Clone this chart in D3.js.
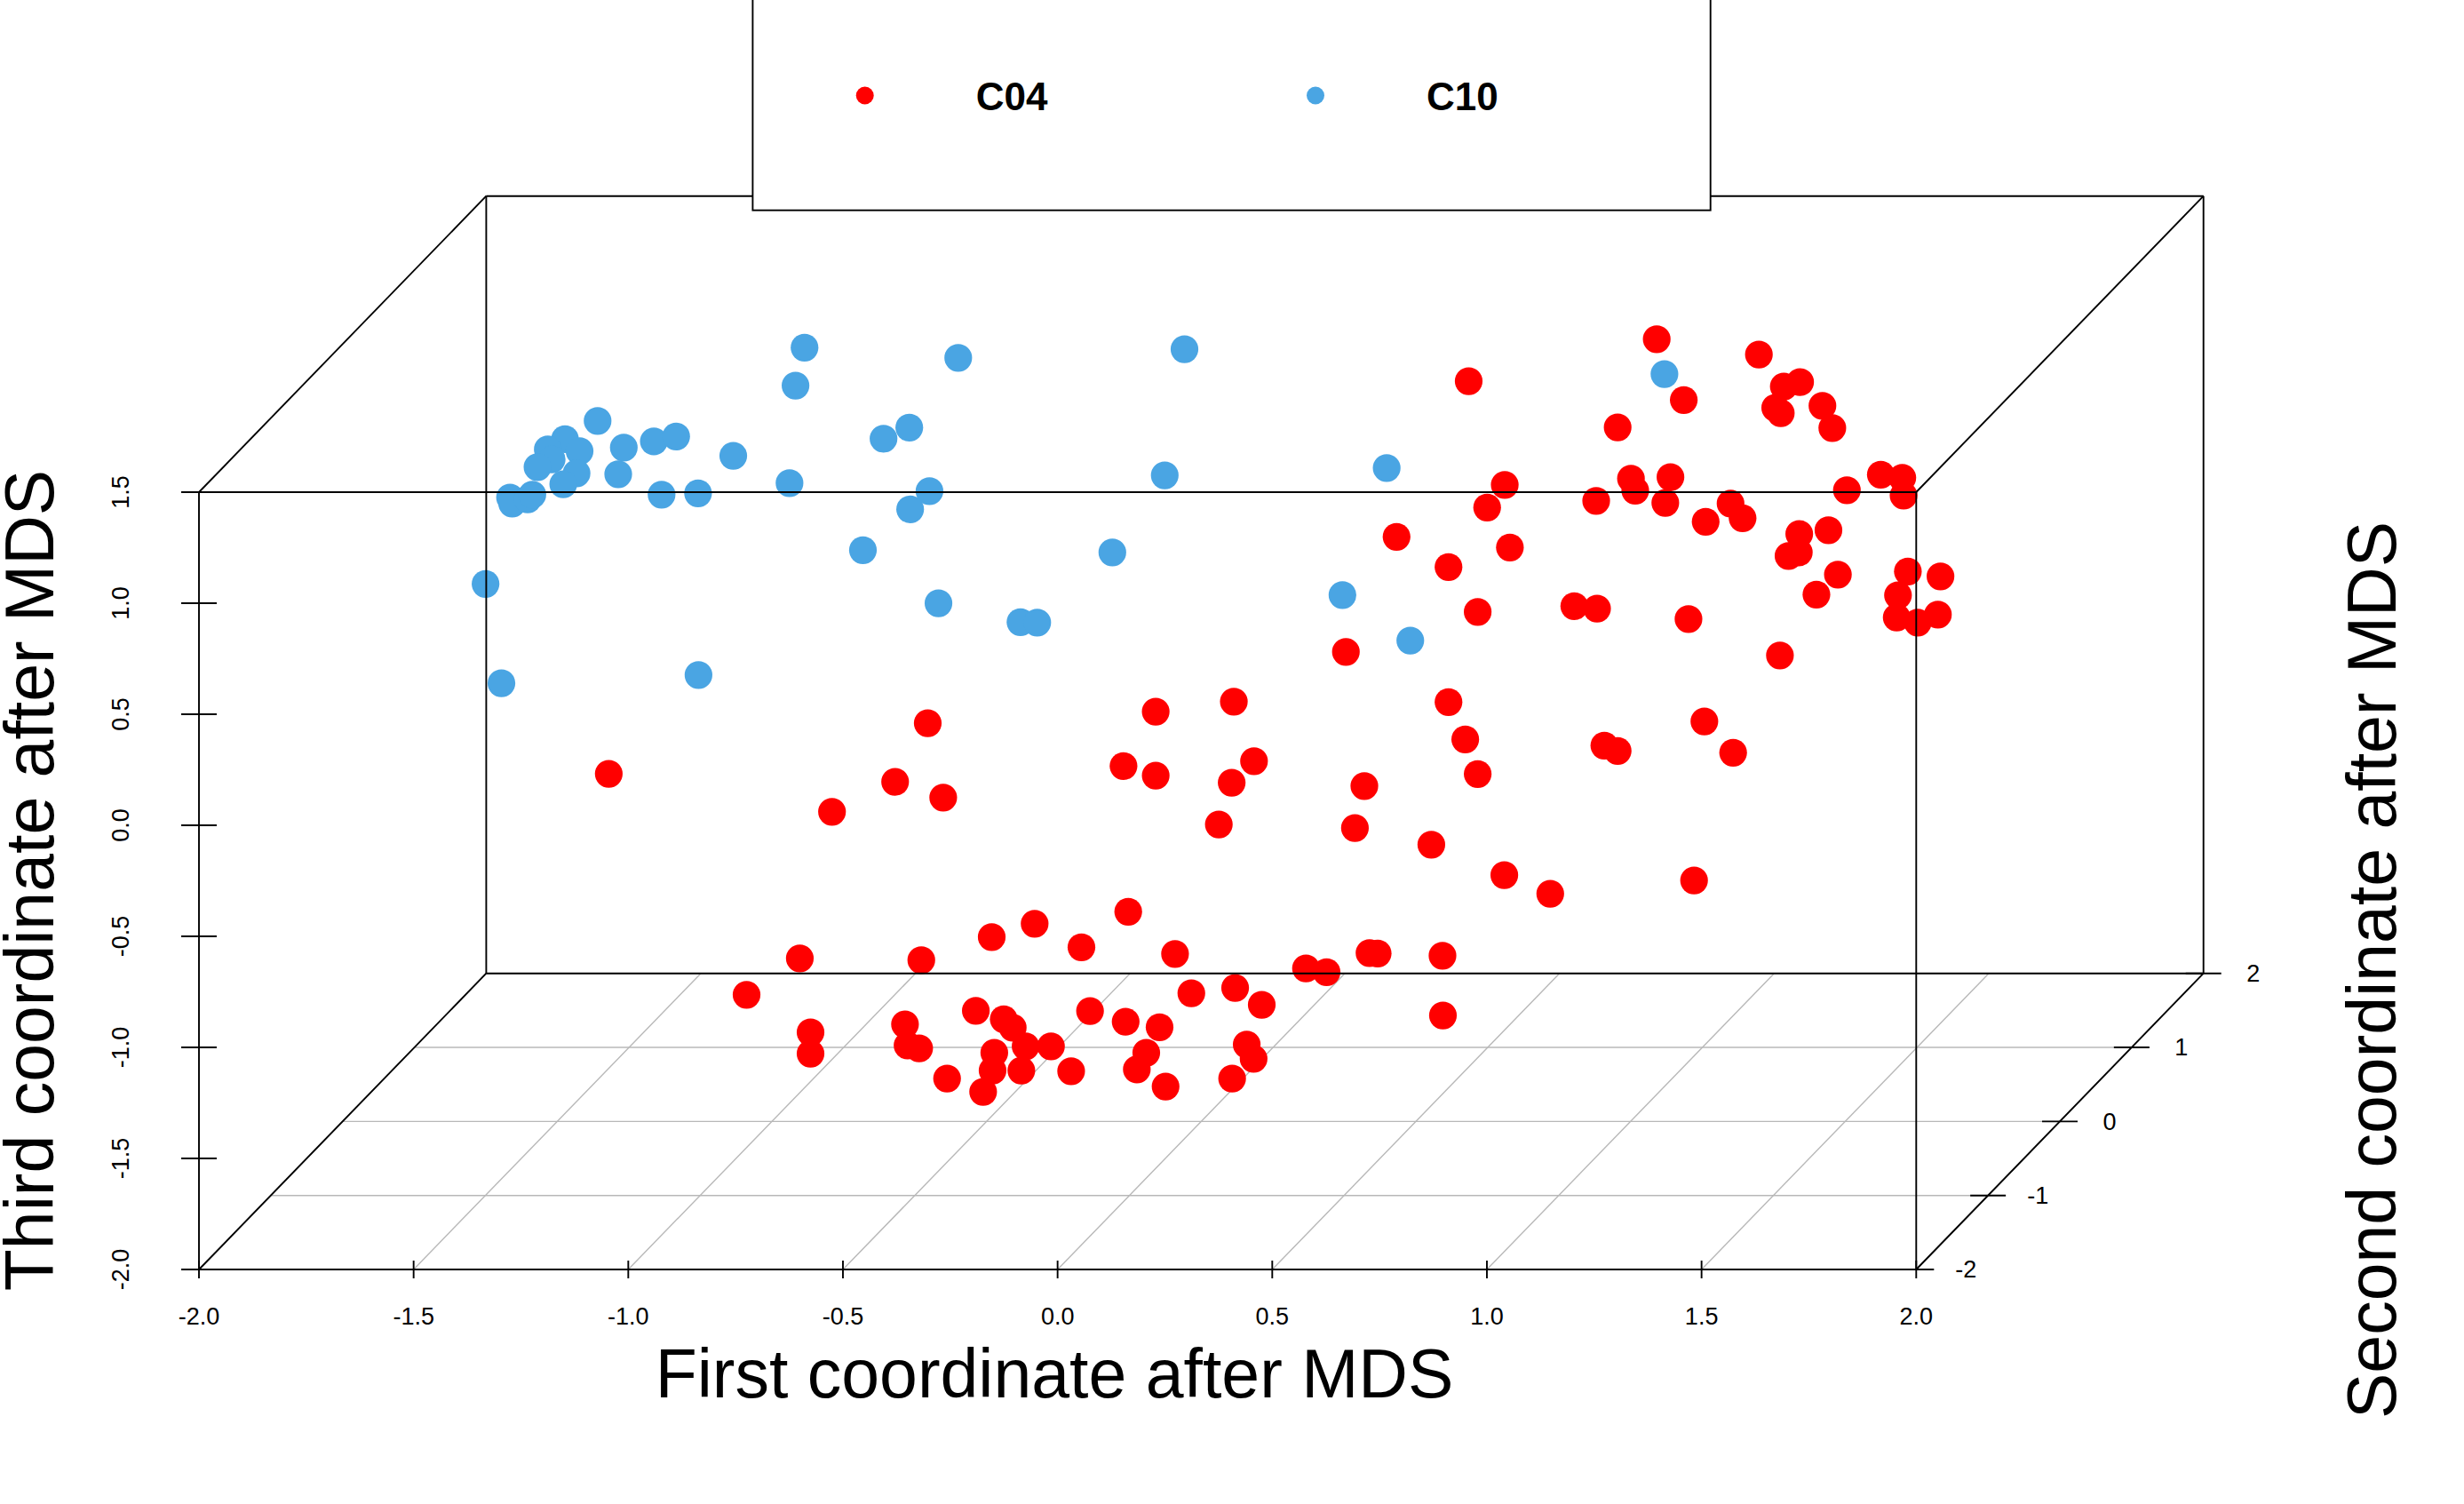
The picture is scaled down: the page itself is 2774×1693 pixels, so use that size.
<!DOCTYPE html>
<html><head><meta charset="utf-8">
<script src="https://cdn.jsdelivr.net/npm/d3@7"></script>
<style>html,body{margin:0;padding:0;background:#fff;} svg{display:block;}</style>
</head><body><svg id="chart" width="2774" height="1693"></svg>
<script>
// ---------- data ----------
const seriesNames = ["C04", "C10"];

const xTickValues = [-2.0, -1.5, -1.0, -0.5, 0.0, 0.5, 1.0, 1.5, 2.0];
const xTickLabels = ["-2.0", "-1.5", "-1.0", "-0.5", "0.0", "0.5", "1.0", "1.5", "2.0"];
const zTickValues = [-2.0, -1.5, -1.0, -0.5, 0.0, 0.5, 1.0, 1.5];
const zTickLabels = ["-2.0", "-1.5", "-1.0", "-0.5", "0.0", "0.5", "1.0", "1.5"];
const yTickValues = [-2, -1, 0, 1, 2];
const yTickLabels = ["-2", "-1", "0", "1", "2"];

// C04: first (x), second (y, depth) and third (z) coordinates after MDS
const c04X = [1.061,1.299,0.623,1.357,1.395,1.124,1.337,1.350,1.447,0.970,
  1.470,0.707,0.666,1.001,1.011,1.093,0.920,1.081,1.233,1.261,
  1.175,0.455,0.719,0.576,1.393,1.392,1.368,1.461,1.483,1.433,
  0.644,0.869,0.922,1.135,1.348,1.583,1.633,1.636,1.504,1.646,
  1.722,1.623,1.620,1.669,1.716,0.337,-1.380,-0.637,-0.713,-0.601,
  -0.860,-0.935,-0.652,-0.488,-0.388,-1.059,-0.910,-0.910,-0.690,-0.684,
  -0.657,-0.525,-0.460,-0.439,-0.409,-0.482,-0.486,-0.419,-0.592,-0.508,
  -0.350,-0.106,0.076,0.576,0.615,0.644,-0.181,-0.106,0.123,0.071,
  0.041,0.380,0.358,0.536,0.706,-0.170,-0.279,-0.061,0.244,0.292,
  0.392,0.411,0.562,0.563,-0.023,0.079,0.141,-0.259,-0.176,-0.097,
  -0.128,-0.150,-0.303,-0.083,0.106,0.122,0.072,0.939,0.970,1.172,
  1.239,0.813,1.148];
const c04Y = [0,0,0,0,0,0,0,0,0,0,
  0,0,0,0,0,0,0,0,0,0,
  0,0,0,0,0,0,0,0,0,0,
  0,0,0,0,0,0,0,0,0,0,
  0,0,0,0,0,0,0,0,0,0,
  0,0,0,0,0,0,0,0,0,0,
  0,0,0,0,0,0,0,0,0,0,
  0,0,0,0,0,0,0,0,0,0,
  0,0,0,0,0,0,0,0,0,0,
  0,0,0,0,0,0,0,0,0,0,
  0,0,0,0,0,0,0,0,0,0,
  0,0,0];
const c04Z = [1.522,1.453,1.333,1.309,1.329,1.248,1.213,1.189,1.222,1.125,
  1.122,0.866,0.764,0.894,0.840,0.901,0.794,0.785,0.782,0.716,
  0.700,0.632,0.584,0.496,0.645,0.562,0.546,0.662,0.462,0.372,
  0.294,0.320,0.309,0.262,0.098,0.912,0.898,0.818,0.842,0.476,
  0.454,0.369,0.269,0.246,0.282,0.114,-0.435,-0.207,-0.471,-0.542,
  -0.606,-1.266,-1.274,-1.170,-1.110,-1.430,-1.599,-1.695,-1.563,-1.658,
  -1.671,-1.502,-1.540,-1.578,-1.662,-1.691,-1.771,-1.771,-1.807,-1.867,
  -1.662,-0.155,-0.110,-0.112,-0.280,-0.436,-0.400,-0.443,-0.378,-0.475,
  -0.663,-0.490,-0.679,-0.754,-0.891,-1.056,-1.216,-1.246,-1.311,-1.328,
  -1.242,-1.244,-1.254,-1.523,-1.423,-1.399,-1.475,-1.503,-1.551,-1.576,
  -1.691,-1.766,-1.774,-1.843,-1.654,-1.718,-1.807,-0.308,-0.332,-0.199,
  -0.340,-0.975,-0.915];

// C10
const c10X = [-0.924,-0.945,-1.406,-1.345,-1.275,-1.223,-1.090,-1.358,-0.740,-0.680,
  -0.959,-1.257,-1.172,-0.678,-0.633,-0.788,-1.667,-1.630,-1.171,-1.482,
  -1.448,-1.522,-1.513,-1.546,-1.455,-1.486,-1.610,-1.605,-1.569,-1.558,
  -0.566,-0.039,-0.085,0.432,-0.207,-0.612,-0.421,-0.382,0.329,1.079,
  0.487];
const c10Y = [0,0,0,0,0,0,0,0,0,0,
  0,0,0,0,0,0,0,0,0,0,
  0,0,0,0,0,0,0,0,0,0,
  0,0,0,0,0,0,0,0,0,0,
  0];
const c10Z = [1.484,1.313,1.154,1.034,1.062,1.084,0.997,0.914,1.074,1.124,
  0.874,0.822,0.828,0.756,0.838,0.572,0.420,-0.027,0.010,1.072,
  1.018,1.026,0.981,0.946,0.918,0.869,0.809,0.782,0.801,0.822,
  1.438,1.477,0.909,0.942,0.562,0.333,0.248,0.246,0.370,1.365,
  0.165];

// ---------- styles ----------
const colors = {C04: "#ff0000", C10: "#4aa5e3"};
const FONT = "'Liberation Sans', Arial, Helvetica, sans-serif";

// ---------- scales (scatterplot3d-like oblique projection) ----------
const svg = d3.select("#chart");
const xScale = d3.scaleLinear().domain([-2, 2]).range([224, 2157.3]);
const zScale = d3.scaleLinear().domain([-2, 1.5]).range([1429, 554]);
const yShiftX = d3.scaleLinear().domain([-2, 2]).range([0, 323.4]);
const yShiftY = d3.scaleLinear().domain([-2, 2]).range([0, -333.3]);
const P = (x, y, z) => [xScale(x) + yShiftX(y), zScale(z) + yShiftY(y)];

const xMin = -2, xMax = 2, yMin = -2, yMax = 2, zMin = -2, zMax = 1.5;

// ---------- grid on the floor ----------
const gGrid = svg.append("g").attr("stroke", "#b8b8b8").attr("stroke-width", 1.4).attr("fill", "none");
xTickValues.forEach(v => {
  const a = P(v, yMin, zMin), b = P(v, yMax, zMin);
  gGrid.append("line").attr("x1", a[0]).attr("y1", a[1]).attr("x2", b[0]).attr("y2", b[1]);
});
yTickValues.forEach(v => {
  const a = P(xMin, v, zMin), b = P(xMax, v, zMin);
  gGrid.append("line").attr("x1", a[0]).attr("y1", a[1]).attr("x2", b[0]).attr("y2", b[1]);
});

// ---------- points ----------
const pts = [];
c04X.forEach((x, i) => pts.push({s: "C04", x, y: c04Y[i], z: c04Z[i]}));
c10X.forEach((x, i) => pts.push({s: "C10", x, y: c10Y[i], z: c10Z[i]}));
svg.append("g").selectAll("circle").data(pts).join("circle")
  .attr("cx", d => P(d.x, d.y, d.z)[0])
  .attr("cy", d => P(d.x, d.y, d.z)[1])
  .attr("r", 15.6)
  .attr("fill", d => colors[d.s]);

// ---------- box ----------
const gBox = svg.append("g").attr("stroke", "#000").attr("stroke-width", 1.9).attr("fill", "none");
const corners = [];
[xMin, xMax].forEach(x => [yMin, yMax].forEach(y => [zMin, zMax].forEach(z => corners.push([x, y, z]))));
for (let i = 0; i < corners.length; i++) for (let j = i + 1; j < corners.length; j++) {
  const c1 = corners[i], c2 = corners[j];
  let diff = 0; for (let k = 0; k < 3; k++) if (c1[k] !== c2[k]) diff++;
  if (diff === 1) {
    const a = P(...c1), b = P(...c2);
    gBox.append("line").attr("x1", a[0]).attr("y1", a[1]).attr("x2", b[0]).attr("y2", b[1]);
  }
}

// ---------- axes ticks and labels ----------
const gAx = svg.append("g").attr("stroke", "#000").attr("stroke-width", 1.9);
const gTxt = svg.append("g").attr("font-family", FONT).attr("font-size", 27).attr("fill", "#000");

// z axis (Third coordinate) on the left
zTickValues.forEach((v, i) => {
  const p = P(xMin, yMin, v);
  gAx.append("line").attr("x1", p[0] - 20).attr("x2", p[0] + 20).attr("y1", p[1]).attr("y2", p[1]);
  gTxt.append("text").attr("transform", `translate(145,${p[1]}) rotate(-90)`)
    .attr("text-anchor", "middle").text(zTickLabels[i]);
});
// x axis (First coordinate) at the bottom
xTickValues.forEach((v, i) => {
  const p = P(v, yMin, zMin);
  gAx.append("line").attr("x1", p[0]).attr("x2", p[0]).attr("y1", p[1] - 10).attr("y2", p[1] + 10);
  gTxt.append("text").attr("x", p[0]).attr("y", 1491).attr("text-anchor", "middle").text(xTickLabels[i]);
});
// y axis (Second coordinate) on the right diagonal
yTickValues.forEach((v, i) => {
  const p = P(xMax, v, zMin);
  gAx.append("line").attr("x1", p[0] - 20).attr("x2", p[0] + 20).attr("y1", p[1]).attr("y2", p[1]);
  gTxt.append("text").attr("x", p[0] + 56).attr("y", p[1]).attr("dy", "0.35em")
    .attr("text-anchor", "middle").text(yTickLabels[i]);
});

// ---------- axis titles ----------
const gTitle = svg.append("g").attr("font-family", FONT).attr("font-size", 77).attr("fill", "#000");
gTitle.append("text").attr("x", 1187).attr("y", 1573).attr("text-anchor", "middle").text("First coordinate after MDS");
gTitle.append("text").attr("transform", "translate(60,991) rotate(-90)").attr("text-anchor", "middle").text("Third coordinate after MDS");
gTitle.append("text").attr("transform", "translate(2697,1092) rotate(-90)").attr("text-anchor", "middle").text("Second coordinate after MDS");

// ---------- legend ----------
const gLeg = svg.append("g");
gLeg.append("rect").attr("x", 847.4).attr("y", -10).attr("width", 1078.3).attr("height", 246.7)
  .attr("fill", "#fff").attr("stroke", "#000").attr("stroke-width", 1.9);
const legDotX = [973.7, 1481];
seriesNames.forEach((s, i) => {
  gLeg.append("circle").attr("cx", legDotX[i]).attr("cy", 107.5).attr("r", 10).attr("fill", colors[s]);
  gLeg.append("text").attr("x", legDotX[i] + 125).attr("y", 124)
    .attr("font-family", FONT).attr("font-size", 44).attr("font-weight", "bold").text(s);
});
</script>
</body></html>
